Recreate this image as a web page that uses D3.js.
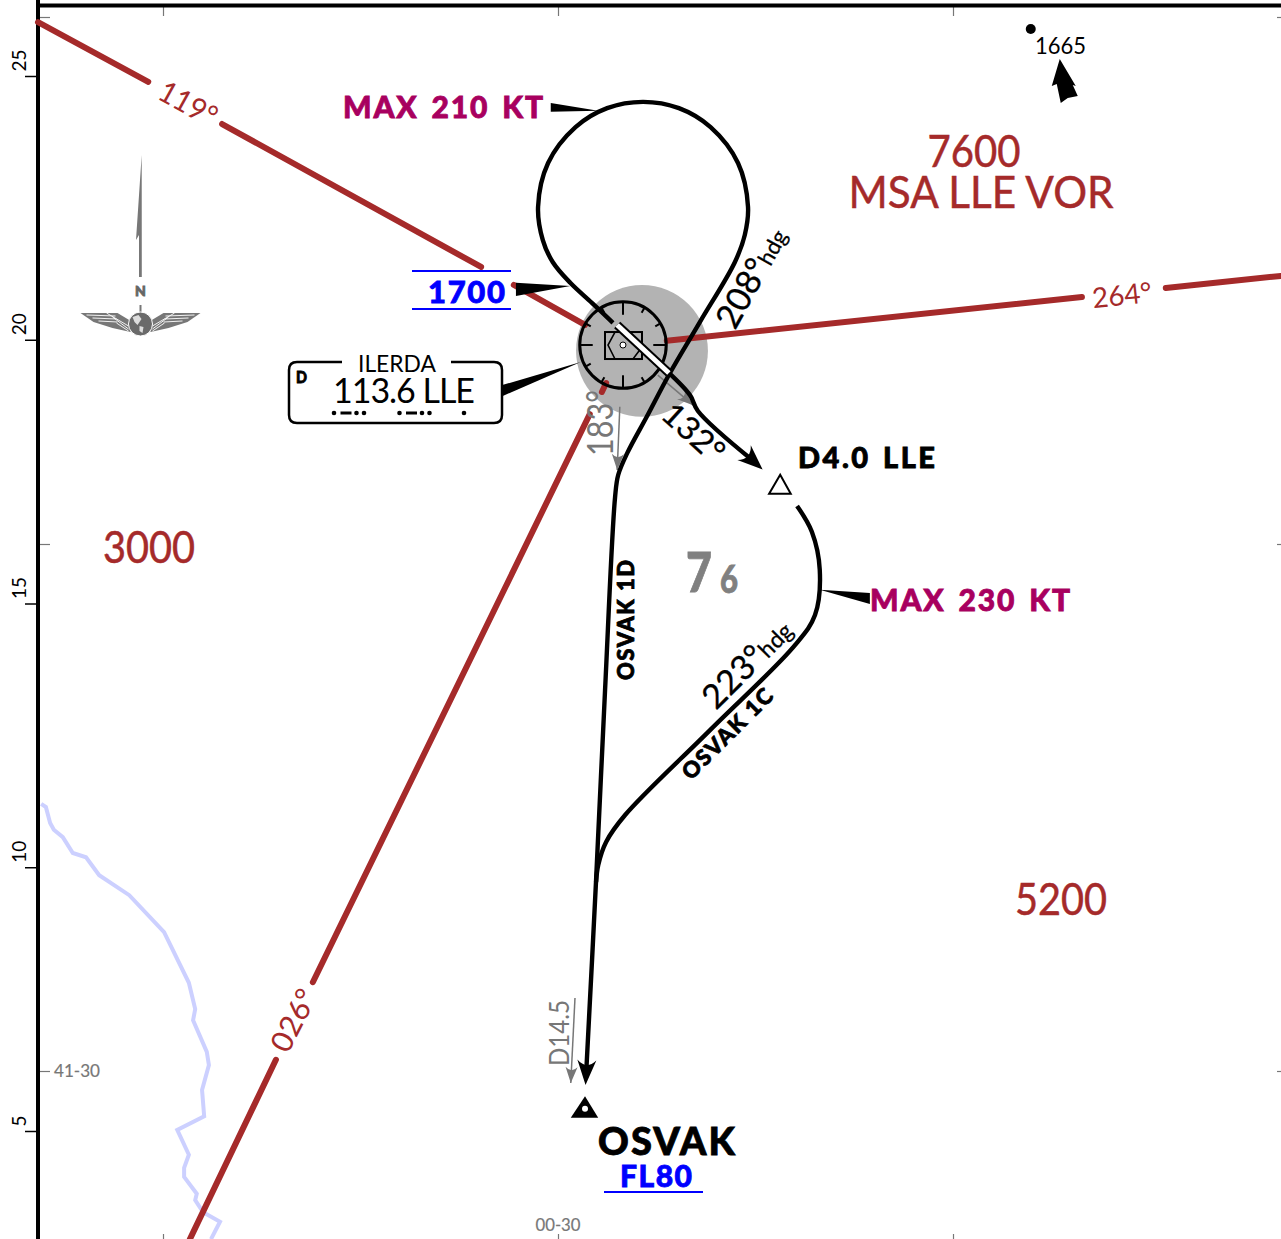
<!DOCTYPE html>
<html>
<head>
<meta charset="utf-8">
<script src="https://cdn.jsdelivr.net/npm/d3@7"></script>
<style>
  html, body { margin: 0; padding: 0; background: #fff; }
  svg { display: block; }
  text { font-family: Lato, "Open Sans", sans-serif; }
</style>
</head>
<body>
<div id="chart"></div>
<script>
// everything on the map is in nautical miles, east of the left frame / north of the D scale zero
var distanceTicks = [5, 10, 15, 20, 25];
var latMinutes = [30, 40, 50];
var lonMinutes = [20, 30, 40];

var radial119 = [[[0, 26.02], [2.09, 24.89]], [[3.49, 24.09], [8.40, 21.38]], [[9.02, 21.04], [10.37, 20.28]]];
var radial264 = [[[11.92, 19.98], [19.79, 20.81]], [[21.38, 20.98], [23.56, 21.21]]];
var radial026 = [[[2.88, 2.95], [4.51, 6.35]], [[5.21, 7.82], [10.46, 18.59]], [[10.69, 19.01], [10.77, 19.18]]];

var track1D = [[10.90, 20.32], [10.50, 20.70], [10.09, 21.08], [9.76, 21.47], [9.57, 21.89], [9.48, 22.52],
  [9.67, 23.35], [10.19, 24.03], [10.79, 24.39], [11.47, 24.51], [12.15, 24.39], [12.75, 24.03], [13.27, 23.35],
  [13.46, 22.52], [13.40, 21.99], [13.21, 21.47], [12.55, 20.34], [11.98, 19.37], [11.54, 18.54], [11.17, 17.85],
  [11.00, 17.44], [10.94, 17.02], [10.75, 13.36], [10.58, 9.76], [10.39, 6.06]];
var track1COut = [[11.94, 19.39], [12.36, 18.95], [12.51, 18.65], [13.54, 17.72]];
var track1CBack = [[14.39, 16.85], [14.67, 16.36], [14.82, 15.64], [14.73, 14.78], [14.35, 14.21], [12.74, 12.60],
  [11.13, 10.99], [10.77, 10.48], [10.62, 10.04], [10.58, 9.72]];

var guide183 = [[11.03, 18.73], [10.98, 17.53]];
var guide132 = [[11.75, 19.33], [12.42, 18.76]];
var guideD145 = [[10.18, 7.52], [10.10, 5.91]];

var callout210 = [[10.62, 24.34], [9.72, 24.49], [9.72, 24.32]];
var callout1700 = [[10.09, 21.02], [9.06, 21.08], [9.06, 20.83]];
var calloutVor = [[10.29, 19.58], [8.80, 19.14], [8.80, 18.93]];
var callout230 = [[14.82, 15.26], [15.77, 15.20], [15.77, 14.99]];

var fixD4 = [[14.07, 17.44], [13.86, 17.08], [14.27, 17.08]];
var fixOsvak = [[10.37, 5.66], [10.10, 5.25], [10.62, 5.25]];
var runway = [[10.98, 20.28], [11.96, 19.37]];
var vorCentre = [11.09, 19.90];
var coverCentre = [11.45, 19.79];
var obstacle = [18.82, 25.89];

var river = [[0.06, 11.20], [0.15, 11.14], [0.23, 10.84], [0.30, 10.71], [0.47, 10.57], [0.66, 10.27], [0.91, 10.19],
  [1.16, 9.85], [1.73, 9.47], [2.39, 8.77], [2.86, 7.81], [2.98, 7.31], [2.94, 7.10], [3.20, 6.50], [3.24, 6.25],
  [3.11, 5.78], [3.15, 5.28], [2.64, 5.02], [2.86, 4.55], [2.77, 4.30], [2.77, 4.13], [3.01, 3.81], [2.98, 3.69],
  [3.13, 3.46], [3.45, 3.28], [3.28, 2.95]];

var morseL = [0, 1, 0, 0];
var morseE = [0];

var width = 1281, height = 1239;
var brown = '#a52a2a', magenta = '#a8005f', blue = '#0000ff', grey = '#777777';
var trackWidth = 4.4;

var x = d3.scaleLinear().domain([0, 20]).range([38, 1093]);
var y = d3.scaleLinear().domain([5, 25]).range([1131, 76]);
var latY = d3.scaleLinear().domain([30, 40]).range([1071, 544]);
var lonX = d3.scaleLinear().domain([20, 30]).range([163, 558]);
var nm = function(d) { return x(d) - x(0); };

var svg = d3.select('#chart').append('svg').attr('width', width).attr('height', height);
var line = d3.line().x(function(d) { return x(d[0]); }).y(function(d) { return y(d[1]); });
var curve = d3.line().x(function(d) { return x(d[0]); }).y(function(d) { return y(d[1]); }).curve(d3.curveCatmullRom.alpha(0.5));
var pts = function(a) { return a.map(function(d) { return x(d[0]) + ',' + y(d[1]); }).join(' '); };

function note(txt, px, py, o) {
  o = o || {};
  var t = svg.append('text')
    .attr('transform', 'translate(' + px + ',' + py + ') rotate(' + (o.rot || 0) + ')')
    .attr('text-anchor', o.anchor || 'start')
    .attr('font-size', o.size || 24)
    .attr('font-weight', o.weight || 400)
    .attr('fill', o.fill || '#000')
    .text(txt);
  if (o.len) t.attr('textLength', o.len).attr('lengthAdjust', o.spaced ? 'spacing' : 'spacingAndGlyphs');
  // Lato has no heavier cut here, so the heavy labels get a thin outline
  var outline = o.stroke || (o.weight === 900 ? 0.8 : 0);
  if (outline) t.attr('stroke', o.fill || '#000').attr('stroke-width', outline);
  return t;
}

// arrow head at the end of a track, tip pushed out past the last point by ext px
function arrow(a, len, hw, ext, fill) {
  var p0 = a[a.length - 2], p1 = a[a.length - 1];
  var ang = Math.atan2(y(p1[1]) - y(p0[1]), x(p1[0]) - x(p0[0])) * 180 / Math.PI;
  svg.append('path')
    .attr('d', 'M0,0 L' + (-len) + ',' + (-hw) + ' Q' + (-len * 0.6) + ',0 ' + (-len) + ',' + hw + ' Z')
    .attr('transform', 'translate(' + x(p1[0]) + ',' + y(p1[1]) + ') rotate(' + ang + ') translate(' + ext + ',0)')
    .attr('fill', fill);
}

// river
svg.append('path').attr('d', line(river)).attr('fill', 'none').attr('stroke', '#ccd0ff').attr('stroke-width', 4);

// frame and graticule
var leftAxis = svg.append('g').attr('transform', 'translate(36,0)')
  .call(d3.axisLeft(y).tickValues(distanceTicks).tickSize(11).tickPadding(2).tickFormat(d3.format('d')));
leftAxis.select('.domain').remove();
leftAxis.selectAll('.tick line').attr('stroke', '#000').attr('stroke-width', 1.5);
leftAxis.selectAll('.tick text').attr('font-size', 19).attr('font-family', 'Lato').attr('fill', '#000')
  .attr('text-anchor', 'start').attr('dy', 0)
  .attr('transform', 'translate(-10,-5) rotate(-90)').attr('x', 0).attr('y', 0);

var latAxis = svg.append('g').attr('transform', 'translate(40,0)')
  .call(d3.axisRight(latY).tickValues(latMinutes).tickSize(10).tickFormat(''));
latAxis.select('.domain').remove();
latAxis.selectAll('.tick line').attr('stroke', grey).attr('stroke-width', 1.2);
var latAxisR = svg.append('g').attr('transform', 'translate(' + width + ',0)')
  .call(d3.axisLeft(latY).tickValues(latMinutes).tickSize(4).tickFormat(''));
latAxisR.select('.domain').remove();
latAxisR.selectAll('.tick line').attr('stroke', grey).attr('stroke-width', 1.2);

var lonTop = svg.append('g').attr('transform', 'translate(0,6)')
  .call(d3.axisBottom(lonX).tickValues(lonMinutes).tickSize(10).tickFormat(''));
lonTop.select('.domain').remove();
lonTop.selectAll('.tick line').attr('stroke', grey).attr('stroke-width', 1.2);
var lonBottom = svg.append('g').attr('transform', 'translate(0,' + height + ')')
  .call(d3.axisTop(lonX).tickValues(lonMinutes).tickSize(5).tickFormat(''));
lonBottom.select('.domain').remove();
lonBottom.selectAll('.tick line').attr('stroke', grey).attr('stroke-width', 1.2);

svg.append('line').attr('x1', 38).attr('x2', 38).attr('y1', 0).attr('y2', height).attr('stroke', '#000').attr('stroke-width', 4);
svg.append('line').attr('x1', 36).attr('x2', width).attr('y1', 5.5).attr('y2', 5.5).attr('stroke', '#000').attr('stroke-width', 4);

note('41-30', 54, 1077, { size: 17, fill: grey, len: 46, stroke: 0.2 });
note('00-30', 558, 1231, { size: 17, fill: grey, anchor: 'middle', len: 45, stroke: 0.2 });

// VOR coverage disc
svg.append('circle').attr('cx', x(coverCentre[0])).attr('cy', y(coverCentre[1])).attr('r', nm(1.25)).attr('fill', '#b3b3b3');

// MSA sector lines
[radial119, radial264, radial026].forEach(function(parts) {
  svg.selectAll(null).data(parts).enter().append('path')
    .attr('d', line).attr('fill', 'none')
    .attr('stroke', brown).attr('stroke-width', 6).attr('stroke-linecap', 'round');
});
note('119°', 183, 113, { rot: 29, size: 30, fill: brown, anchor: 'middle', len: 62 });
note('264°', 1123, 305, { rot: -6, size: 28, fill: brown, anchor: 'middle', len: 60 });
note('026°', 303, 1025, { rot: -63, size: 30, fill: brown, anchor: 'middle', len: 66 });

note('7600', 974, 167, { size: 44, fill: brown, anchor: 'middle', len: 93, stroke: 0.5 });
note('MSA LLE VOR', 981, 208, { size: 44, fill: brown, anchor: 'middle', len: 265, stroke: 0.5 });
note('3000', 149, 563, { size: 44, fill: brown, anchor: 'middle', len: 92, stroke: 0.5 });
note('5200', 1061, 915, { size: 44, fill: brown, anchor: 'middle', len: 92, stroke: 0.5 });

// guide arrows, grey
[guide183, guide132, guideD145].forEach(function(g) {
  svg.append('path').attr('d', line(g)).attr('fill', 'none').attr('stroke', grey).attr('stroke-width', 1.5);
  arrow(g, 16, 6, 0, grey);
});
note('183°', 613, 456, { rot: -90, size: 36, fill: grey, len: 66 });
note('D14.5', 569, 1066, { rot: -90, size: 26, fill: grey, len: 66 });

// compass rose on the VOR
var rose = svg.append('g').attr('transform', 'translate(' + x(vorCentre[0]) + ',' + y(vorCentre[1]) + ')');
var r = nm(0.82);
rose.append('circle').attr('r', r).attr('fill', 'none').attr('stroke', '#000').attr('stroke-width', 3);
rose.selectAll('line').data(d3.range(0, 360, 30)).enter().append('line')
  .attr('x1', 0).attr('x2', 0).attr('y1', -r)
  .attr('y2', function(d) { return d % 90 === 0 ? -r + 13 : -r + 6; })
  .attr('transform', function(d) { return 'rotate(' + d + ')'; })
  .attr('stroke', '#000').attr('stroke-width', 2);
rose.append('rect').attr('x', -18).attr('y', -13).attr('width', 37).attr('height', 27)
  .attr('fill', 'none').attr('stroke', '#000').attr('stroke-width', 2);
rose.append('polyline').attr('points', '-8,-13 -15,0 -8,14 10,14 19,2')
  .attr('fill', 'none').attr('stroke', '#000').attr('stroke-width', 1.6);

// tracks
svg.append('path').attr('d', curve(track1D)).attr('fill', 'none').attr('stroke', '#000').attr('stroke-width', trackWidth);
svg.append('path').attr('d', curve(track1COut)).attr('fill', 'none').attr('stroke', '#000').attr('stroke-width', trackWidth);
svg.append('path').attr('d', curve(track1CBack)).attr('fill', 'none').attr('stroke', '#000').attr('stroke-width', trackWidth);
arrow(track1D, 25, 9.5, 10, '#000');
arrow(track1COut, 25, 10, 14, '#000');

// runway
svg.append('path').attr('d', line(runway)).attr('stroke', '#000').attr('stroke-width', 9);
svg.append('path').attr('d', line(runway)).attr('stroke', '#fff').attr('stroke-width', 5);
rose.append('circle').attr('r', 3).attr('fill', '#fff').attr('stroke', '#000').attr('stroke-width', 1);

// callout wedges
[callout210, callout1700, calloutVor, callout230].forEach(function(c) {
  svg.append('polygon').attr('points', pts(c)).attr('fill', '#000');
});

// fixes
svg.append('polygon').attr('points', pts(fixD4)).attr('fill', '#fff').attr('stroke', '#000').attr('stroke-width', 2);
svg.append('polygon').attr('points', pts(fixOsvak)).attr('fill', '#000');
svg.append('circle').attr('cx', x(fixOsvak[0][0])).attr('cy', y(5.42)).attr('r', 3).attr('fill', '#fff');

// track labels
var t208 = note('', 735, 331, { rot: -61, size: 34, stroke: 0.3 });
t208.append('tspan').text('208°');
t208.append('tspan').attr('font-size', 22).text('hdg');
var t223 = note('', 716, 711, { rot: -45, size: 34, stroke: 0.3 });
t223.append('tspan').text('223°');
t223.append('tspan').attr('font-size', 23).text('hdg');
note('132°', 686, 441, { rot: 42, size: 32, anchor: 'middle', len: 72, stroke: 0.3 });
note('OSVAK 1D', 634, 680, { rot: -90, size: 22, weight: 900, len: 120, spaced: true });
note('OSVAK 1C', 691, 781, { rot: -45, size: 22, weight: 900, len: 118, spaced: true });

// limits and altitudes
note('MAX 210 KT', 343, 118, { size: 30, weight: 900, fill: magenta, len: 200, spaced: true }).attr('word-spacing', 4);
note('MAX 230 KT', 870, 611, { size: 30, weight: 900, fill: magenta, len: 200, spaced: true }).attr('word-spacing', 4);
note('1700', 428, 303, { size: 31, weight: 900, fill: blue, len: 77, spaced: true });
svg.append('line').attr('x1', 412).attr('x2', 511).attr('y1', 271).attr('y2', 271).attr('stroke', blue).attr('stroke-width', 2);
svg.append('line').attr('x1', 412).attr('x2', 511).attr('y1', 309).attr('y2', 309).attr('stroke', blue).attr('stroke-width', 2);
note('D4.0 LLE', 798, 468, { size: 29, weight: 900, len: 137, spaced: true }).attr('word-spacing', 3);
note('OSVAK', 598, 1155, { size: 38, weight: 900, len: 137, spaced: true });
note('FL80', 620, 1187, { size: 30, weight: 900, fill: blue, len: 72, spaced: true });
svg.append('line').attr('x1', 604).attr('x2', 703).attr('y1', 1192).attr('y2', 1192).attr('stroke', blue).attr('stroke-width', 2);

note('7', 686, 592, { size: 55, weight: 900, fill: '#808080', len: 26 });
note('6', 720, 593, { size: 37, weight: 900, fill: '#808080', len: 18 });

// navaid box with the gap for the name
var box = d3.path();
box.moveTo(342, 362);
box.lineTo(297, 362);
box.quadraticCurveTo(289, 362, 289, 370);
box.lineTo(289, 415);
box.quadraticCurveTo(289, 423, 297, 423);
box.lineTo(494, 423);
box.quadraticCurveTo(502, 423, 502, 415);
box.lineTo(502, 370);
box.quadraticCurveTo(502, 362, 494, 362);
box.lineTo(451, 362);
svg.append('path').attr('d', box.toString()).attr('fill', 'none').attr('stroke', '#000').attr('stroke-width', 2.5);
note('ILERDA', 397, 372, { size: 24, anchor: 'middle', len: 78 });
note('D', 296, 383, { size: 16, weight: 900, len: 11 });
note('113.6 LLE', 333, 403, { size: 34, len: 142, spaced: true });

function morse(code, startX) {
  var cur = startX;
  code.forEach(function(c) {
    if (c) {
      svg.append('rect').attr('x', cur - 1).attr('y', 411.5).attr('width', 11).attr('height', 3).attr('fill', '#000');
      cur += 15;
    } else {
      svg.append('circle').attr('cx', cur).attr('cy', 413).attr('r', 2.3).attr('fill', '#000');
      cur += 7.5;
    }
  });
}
morse(morseL, 334);
morse(morseL, 399.5);
morse(morseE, 464);

// obstacle
svg.append('circle').attr('cx', x(obstacle[0])).attr('cy', y(obstacle[1])).attr('r', 5).attr('fill', '#000');
note('1665', 1035, 54, { size: 24, len: 51 });
svg.append('polygon').attr('transform', 'translate(' + x(obstacle[0]) + ',' + y(obstacle[1]) + ')')
  .attr('points', '29,30 21,57 26,55 30,74 37,69 47,67 42,56 45,57').attr('fill', '#000');

// north arrow and logo
svg.append('polygon').attr('points', '141.7,155 141.8,277 139,277 139,235 136,240').attr('fill', grey);
note('N', 140.5, 296, { size: 14, weight: 900, fill: '#666', anchor: 'middle' });
svg.append('line').attr('x1', 140.5).attr('x2', 140.5).attr('y1', 305).attr('y2', 316).attr('stroke', grey).attr('stroke-width', 2);
var logo = svg.append('g').attr('transform', 'translate(140.5,324)');
[1, -1].forEach(function(s) {
  var w = logo.append('g').attr('transform', 'scale(' + s + ',1)');
  w.append('polygon').attr('points', '-60,-11 -23,-11 -8,-2 -10,8 -28,4 -47,-2').attr('fill', '#777');
  w.selectAll('line').data([[-54, -9, -25, -8], [-48, -6, -24, -5], [-42, -3, -23, -2],
    [-34, -11, -12, 2], [-28, -7, -12, 5], [-24, -1, -12, 7]]).enter().append('line')
    .attr('x1', function(d) { return d[0]; }).attr('y1', function(d) { return d[1]; })
    .attr('x2', function(d) { return d[2]; }).attr('y2', function(d) { return d[3]; })
    .attr('stroke', '#fff').attr('stroke-width', 0.9);
});
logo.append('circle').attr('r', 12).attr('fill', '#6a6a6a').attr('stroke', '#fff').attr('stroke-width', 1);
logo.append('path').attr('d', 'M-8,-7 L-2,-9 1,-5 -1,-2 -3,1 -6,-2 Z M-1,2 L3,3 2,9 -1,7 Z').attr('fill', '#ddd');
</script>
</body>
</html>
